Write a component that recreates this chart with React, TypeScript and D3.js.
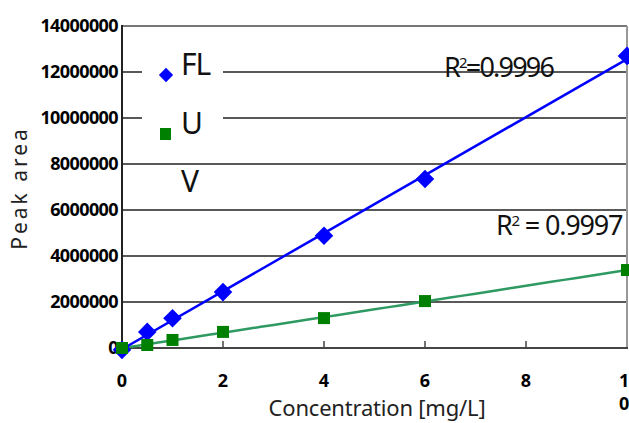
import React from "react";
import * as d3 from "d3";

const concentrations = [0, 0.5, 1, 2, 4, 6, 10];
const flValues = [-80000, 700000, 1290000, 2430000, 4880000, 7350000, 12700000];
const uValues = [0, 130000, 350000, 700000, 1300000, 2040000, 3390000];
const yTicks = [0, 2000000, 4000000, 6000000, 8000000, 10000000, 12000000, 14000000];
const xTicks = [0, 2, 4, 6, 8, 10];
const legendItems = ["FL", "U", "V"];
const r2FL = "0.9996";
const r2U = "0.9997";

function linFit(xs: number[], ys: number[]) {
  const n = xs.length;
  const mx = d3.mean(xs)!;
  const my = d3.mean(ys)!;
  let sxy = 0, sxx = 0;
  for (let i = 0; i < n; i++) {
    sxy += (xs[i] - mx) * (ys[i] - my);
    sxx += (xs[i] - mx) ** 2;
  }
  const b = sxy / sxx;
  return { a: my - b * mx, b };
}

function quadFit(xs: number[], ys: number[]) {
  const S = (p: number) => d3.sum(xs, (x) => x ** p);
  const T = (p: number) => d3.sum(xs, (x, i) => x ** p * ys[i]);
  const A = [
    [S(0), S(1), S(2), T(0)],
    [S(1), S(2), S(3), T(1)],
    [S(2), S(3), S(4), T(2)],
  ];
  for (let i = 0; i < 3; i++) {
    for (let j = i + 1; j < 3; j++) {
      const f = A[j][i] / A[i][i];
      for (let k = i; k < 4; k++) A[j][k] -= f * A[i][k];
    }
  }
  const c = [0, 0, 0];
  for (let i = 2; i >= 0; i--) {
    let s = A[i][3];
    for (let k = i + 1; k < 3; k++) s -= A[i][k] * c[k];
    c[i] = s / A[i][i];
  }
  return (x: number) => c[0] + c[1] * x + c[2] * x * x;
}

export default function App() {
  const left = 122, right = 627, top = 26, bottom = 348;
  const x = d3.scaleLinear().domain([0, 10]).range([left, right]);
  const y = d3.scaleLinear().domain([0, 14000000]).range([bottom, top]);

  const fl = linFit(concentrations, flValues);
  const flLine = d3.line<number>().x((d) => x(d)).y((d) => y(fl.a + fl.b * d));
  const uf = quadFit(concentrations, uValues);
  const samples = d3.range(0, 10.0001, 0.25);
  const uLine = d3.line<number>().x((d) => x(d)).y((d) => y(Math.max(0, uf(d))));

  const diamond = d3.symbol().type(d3.symbolDiamond2).size(220)();
  const diamondLegend = d3.symbol().type(d3.symbolDiamond2).size(130)();

  const tickFont = { fontFamily: "'Noto Sans', 'Open Sans', sans-serif", fontWeight: 700, fontSize: 18 };
  const textFont = "'Noto Sans', sans-serif";

  return (
    <svg width={629} height={423} style={{ position: "absolute", left: 0, top: 0, background: "#fff" }}>
      {yTicks.filter((t) => t > 0 && t < 14000000).map((t) => (
        <line key={t} x1={left} x2={right} y1={y(t)} y2={y(t)} stroke="#222" strokeWidth={1.5} />
      ))}
      <rect x={142} y={30} width={81} height={128} fill="#fff" />
      <line x1={left} x2={right} y1={top} y2={top} stroke="#777" strokeWidth={2} />
      <line x1={right} x2={right} y1={top} y2={bottom} stroke="#999" strokeWidth={2} />
      <line x1={left} x2={right + 1} y1={bottom} y2={bottom} stroke="#444" strokeWidth={2} />
      <line x1={left} x2={left} y1={top - 1} y2={bottom + 1} stroke="#222" strokeWidth={2} />
      {xTicks.filter((t) => t > 0 && t < 10).map((t) => (
        <line key={t} x1={x(t)} x2={x(t)} y1={bottom} y2={bottom - 7} stroke="#444" strokeWidth={1.5} />
      ))}
      {yTicks.map((t) => (
        <text key={t} x={118} y={y(t)} dy="0.35em" textAnchor="end" {...tickFont} letterSpacing={-0.6}>
          {t}
        </text>
      ))}
      {xTicks.map((t) =>
        t === 10 ? (
          <text key={t} x={619} y={387} {...tickFont}>
            <tspan x={619}>1</tspan>
            <tspan x={619} dy={23}>0</tspan>
          </text>
        ) : (
          <text key={t} x={x(t)} y={387} textAnchor="middle" {...tickFont}>
            {t}
          </text>
        )
      )}
      <path d={uLine(samples)!} fill="none" stroke="#2e9a62" strokeWidth={2.5} />
      <path d={flLine([0, 10])!} fill="none" stroke="#0000ff" strokeWidth={2.5} />
      {concentrations.map((c, i) => (
        <path key={"fl" + i} d={diamond!} transform={`translate(${x(c)},${y(flValues[i])})`} fill="#0000ff" />
      ))}
      {concentrations.map((c, i) => (
        <rect key={"u" + i} x={x(c) - 6} y={y(uValues[i]) - 6} width={12} height={12} fill="#008000" />
      ))}
      <path d={diamondLegend!} transform="translate(166,75)" fill="#0000ff" />
      <rect x={160} y={128} width={11} height={12} fill="#008000" />
      {legendItems.map((l, i) => (
        <text key={l} x={181} y={75 + i * 58.5} fontFamily={textFont} fontSize={30} letterSpacing={-1} fill="#111">
          {l}
        </text>
      ))}
      <text x={444} y={77} fontFamily={textFont} fontSize={27} letterSpacing={-1.8} fill="#111">
        R<tspan fontSize={15} dy={-9}>2</tspan>
        <tspan dy={9}>={r2FL}</tspan>
      </text>
      <text x={496} y={235} fontFamily={textFont} fontSize={27} letterSpacing={-1.2} fill="#111">
        R<tspan fontSize={15} dy={-9}>2</tspan>
        <tspan dy={9}> = {r2U}</tspan>
      </text>
      <text x={377} y={416} textAnchor="middle" fontFamily={textFont} fontSize={22} letterSpacing={-0.2} fill="#222">
        Concentration [mg/L]
      </text>
      <text
        transform="translate(27,188) rotate(-90)"
        textAnchor="middle"
        fontFamily={textFont}
        fontSize={21}
        letterSpacing={3}
        fill="#222"
      >
        Peak area
      </text>
    </svg>
  );
}
